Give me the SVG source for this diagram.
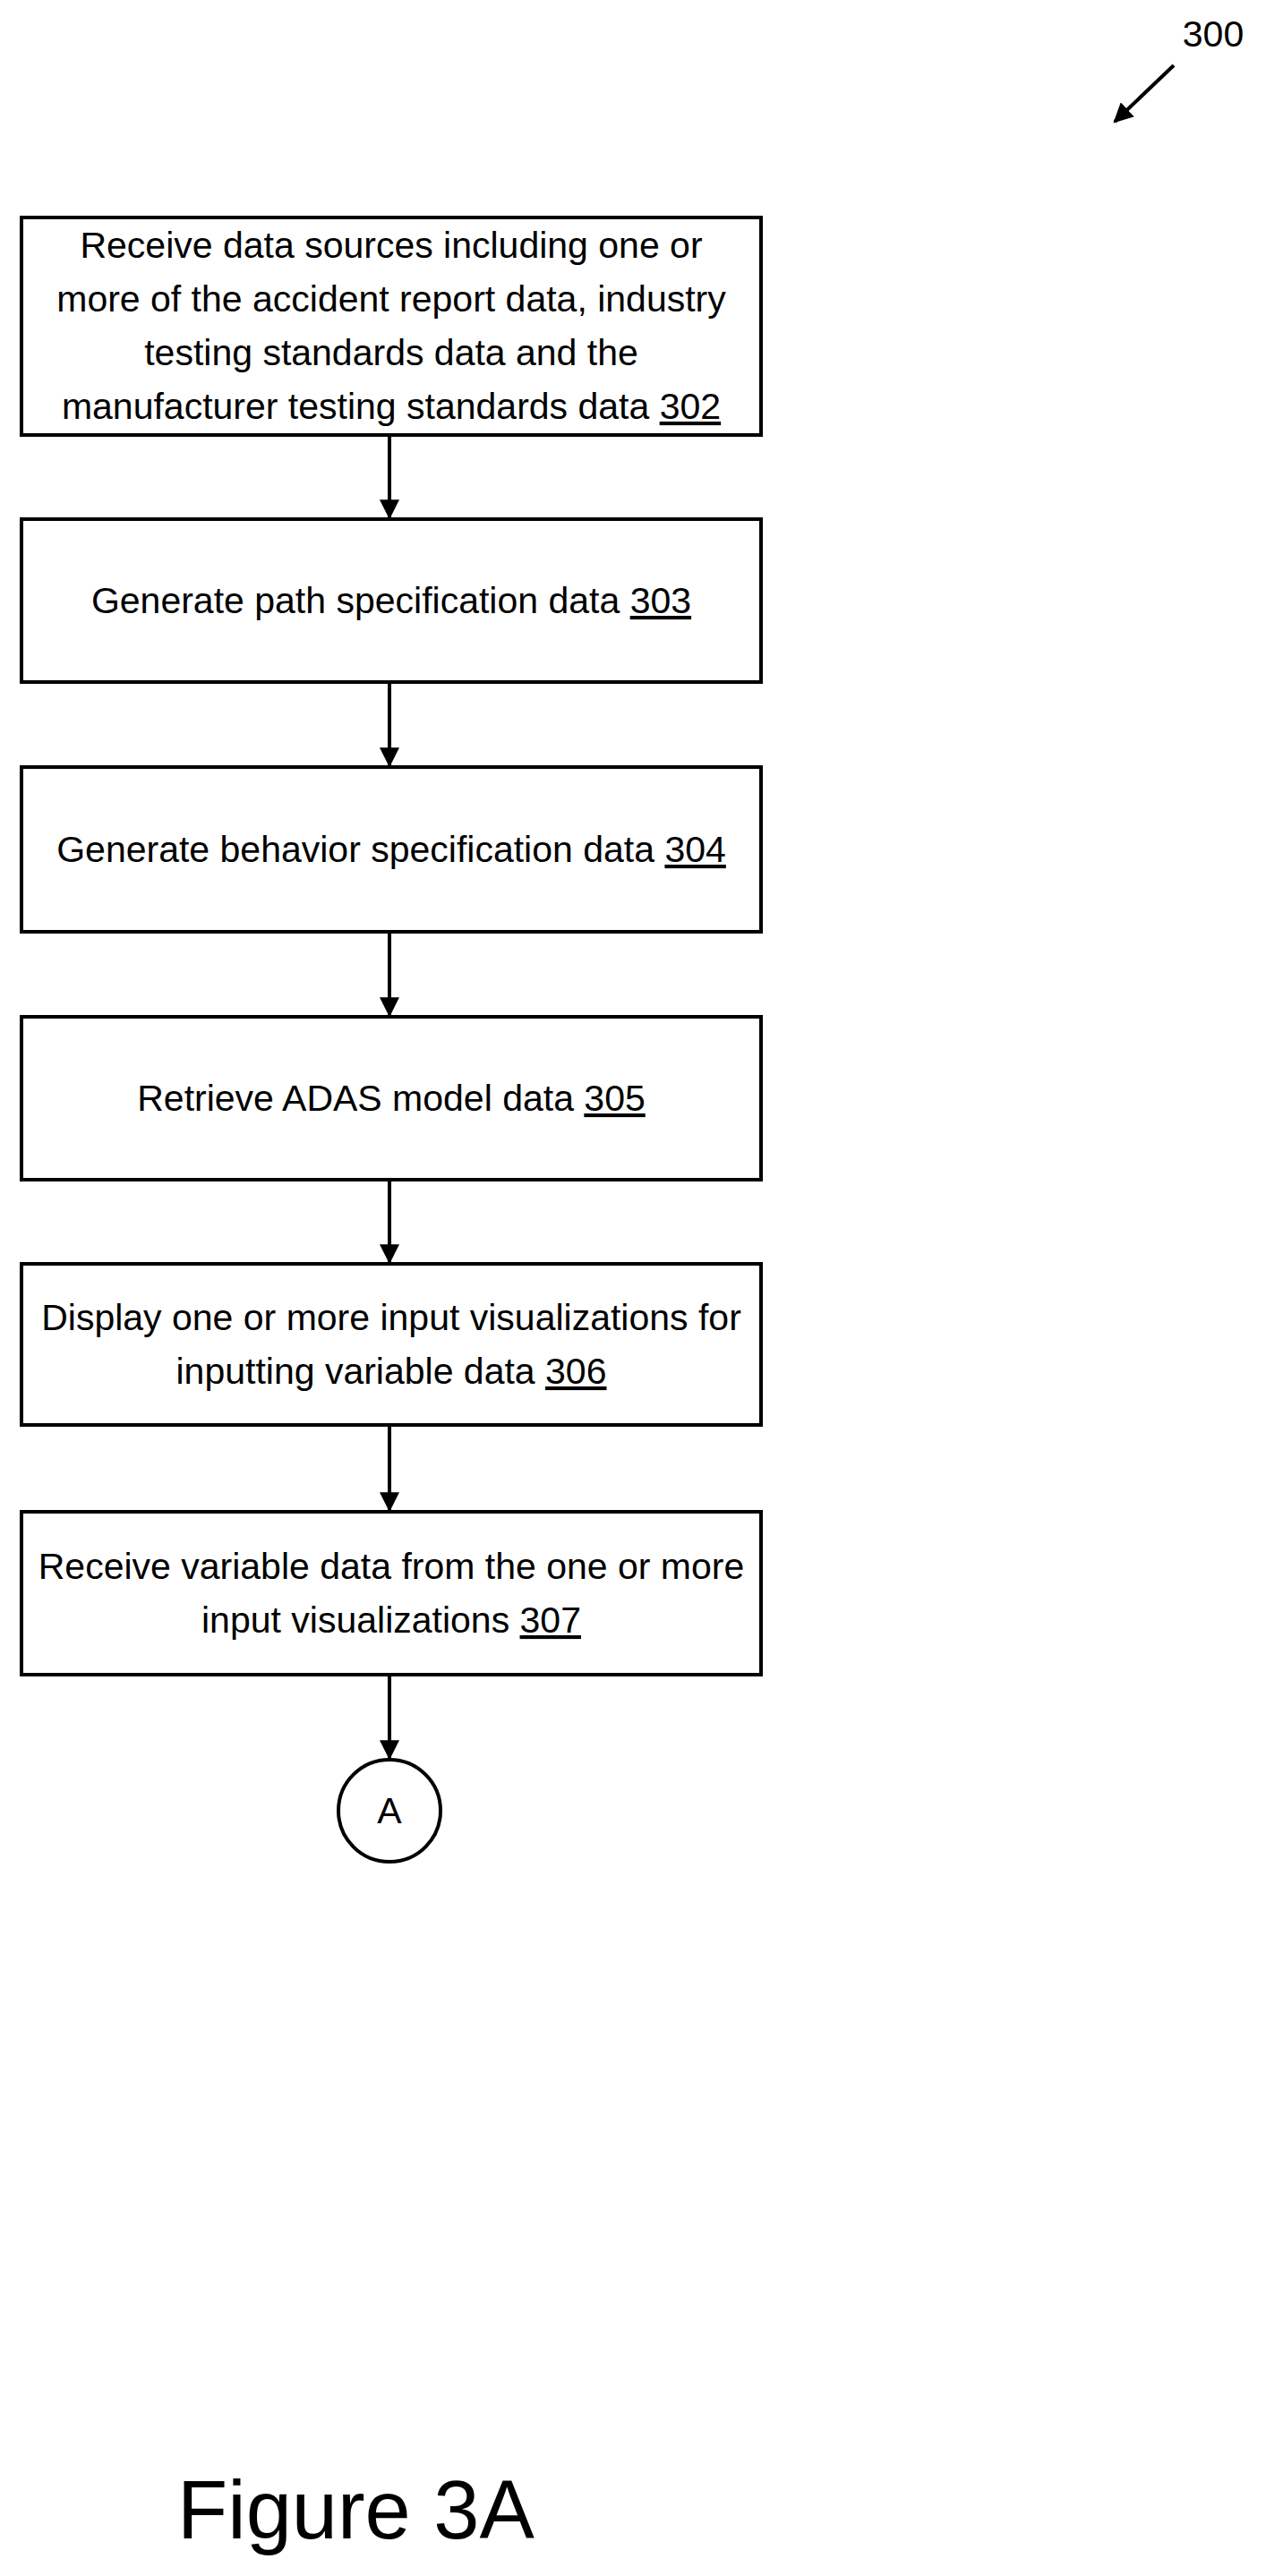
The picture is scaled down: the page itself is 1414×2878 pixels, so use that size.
<svg xmlns="http://www.w3.org/2000/svg" width="1414" height="2878" viewBox="0 0 1414 2878">
<style>
.box{fill:#fff;stroke:#000;stroke-width:4}
.t{font-family:"Liberation Sans Narrow","Liberation Sans",Arial,sans-serif;font-size:41px;text-anchor:middle;fill:#000}
.u{text-decoration:underline}
.c{stroke:#000;stroke-width:4;fill:none}
</style>
<defs><marker id="ah" markerWidth="10" markerHeight="10" refX="9" refY="5" orient="auto" markerUnits="userSpaceOnUse" viewBox="0 0 10 10"><path d="M0,0 L10,5 L0,10 z" fill="#000"/></marker>
<marker id="a2" viewBox="0 0 10 10" refX="9" refY="5" markerWidth="22" markerHeight="22" markerUnits="userSpaceOnUse" orient="auto"><path d="M0,0 L10,5 L0,10 z" fill="#000"/></marker></defs>
<text class="t" x="1355" y="52" style="font-family:'Liberation Sans',Arial,sans-serif">300</text>
<line class="c" x1="1311" y1="73" x2="1245" y2="136" marker-end="url(#a2)"/>
<g id="n302"><rect class="box" x="24" y="243" width="826" height="243"/>
<text class="t" x="437" y="288">Receive data sources including one or</text>
<text class="t" x="437" y="348">more of the accident report data, industry</text>
<text class="t" x="437" y="408">testing standards data and the</text>
<text class="t" x="437" y="468">manufacturer testing standards data  <tspan class="u">302</tspan></text></g>
<g id="n303"><rect class="box" x="24" y="580" width="826" height="182"/>
<text class="t" x="437" y="685">Generate path specification data  <tspan class="u">303</tspan></text></g>
<g id="n304"><rect class="box" x="24" y="857" width="826" height="184"/>
<text class="t" x="437" y="963">Generate behavior specification data  <tspan class="u">304</tspan></text></g>
<g id="n305"><rect class="box" x="24" y="1136" width="826" height="182"/>
<text class="t" x="437" y="1241">Retrieve ADAS model data  <tspan class="u">305</tspan></text></g>
<g id="n306"><rect class="box" x="24" y="1412" width="826" height="180"/>
<text class="t" x="437" y="1486">Display one or more input visualizations for</text>
<text class="t" x="437" y="1546">inputting variable data  <tspan class="u">306</tspan></text></g>
<g id="n307"><rect class="box" x="24" y="1689" width="826" height="182"/>
<text class="t" x="437" y="1764">Receive variable data from the one or more</text>
<text class="t" x="437" y="1824">input visualizations  <tspan class="u">307</tspan></text></g>
<g id="nA"><circle cx="435" cy="2023" r="57" fill="#fff" stroke="#000" stroke-width="4"/>
<text class="t" x="435" y="2037" style="font-family:'Liberation Sans',Arial,sans-serif">A</text></g>
<g id="connectors">
<line class="c" x1="435" y1="486" x2="435" y2="578" marker-end="url(#a2)"/>
<line class="c" x1="435" y1="762" x2="435" y2="855" marker-end="url(#a2)"/>
<line class="c" x1="435" y1="1041" x2="435" y2="1134" marker-end="url(#a2)"/>
<line class="c" x1="435" y1="1318" x2="435" y2="1410" marker-end="url(#a2)"/>
<line class="c" x1="435" y1="1592" x2="435" y2="1687" marker-end="url(#a2)"/>
<line class="c" x1="435" y1="1871" x2="435" y2="1964" marker-end="url(#a2)"/>
</g>
<text x="198" y="2836" style="font-family:'Liberation Sans',Arial,sans-serif;font-size:92px">Figure 3A</text>
</svg>
